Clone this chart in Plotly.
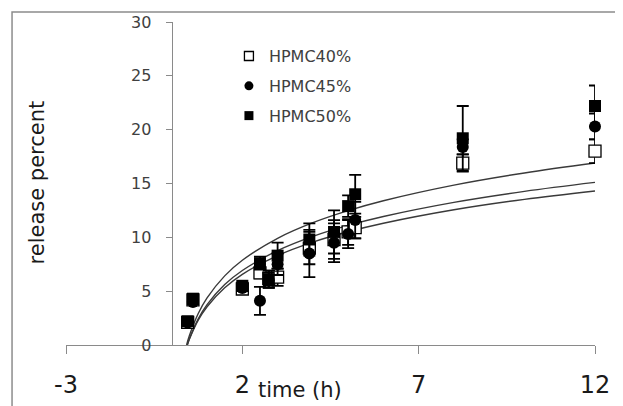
import plotly.graph_objects as go

# ---- data ----
time_h = [0.45, 0.6, 2.0, 2.5, 2.75, 3.0, 3.9, 4.6, 5.0, 5.2, 8.25, 12]

hpmc40 = [2.1, 4.2, 5.2, 6.7, 6.2, 6.3, 9.0, 9.8, 10.5, 10.9, 16.9, 18.0]
hpmc40_err = [0.2, 0.2, 0.3, 0.5, 0.7, 0.8, 1.5, 1.8, 1.2, 1.0, 0.8, 1.1]

hpmc45 = [2.1, 4.0, 5.3, 4.1, 6.0, 7.5, 8.5, 9.5, 10.3, 11.6, 18.4, 20.3]
hpmc45_err = [0.2, 0.2, 0.3, 1.3, 0.7, 1.0, 2.2, 1.8, 1.3, 1.7, 0.7, 1.2]

hpmc50 = [2.2, 4.3, 5.5, 7.6, 6.1, 8.3, 9.8, 10.5, 12.9, 14.0, 19.2, 22.2]
hpmc50_err = [0.3, 0.3, 0.3, 0.6, 0.8, 1.2, 1.5, 2.0, 1.0, 1.8, 3.0, 1.9]

# fitted trend curves
curve_t = [0.42, 0.5, 0.75, 1, 1.5, 2, 3, 4, 5, 6, 8, 10, 12]
curve_top = [0.0, 0.88, 2.92, 4.37, 6.42, 7.87, 9.91, 11.36, 12.48, 13.40, 14.85, 15.98, 16.9]
curve_t2 = [0.44, 0.5, 0.75, 1, 1.5, 2, 3, 4, 5, 6, 8, 10, 12]
curve_mid = [0.0, 0.58, 2.44, 3.75, 5.61, 6.92, 8.77, 10.09, 11.11, 11.94, 13.25, 14.27, 15.1]
curve_low = [0.0, 0.55, 2.31, 3.55, 5.31, 6.56, 8.31, 9.56, 10.52, 11.31, 12.56, 13.53, 14.31]

x_ticks = [-3, 2, 7, 12]
y_ticks = [0, 5, 10, 15, 20, 25, 30]

FONT = "DejaVu Sans"
TXT = "#404040"
AX = "#8a8a8a"

fig = go.Figure()

for cy, ct in [(curve_top, curve_t), (curve_mid, curve_t2), (curve_low, curve_t2)]:
    fig.add_trace(go.Scatter(x=ct, y=cy, mode="lines", line=dict(color="#3a3a3a", width=1.4, shape="spline"),
                             showlegend=False, hoverinfo="skip"))

series = [
    ("HPMC40%", hpmc40, hpmc40_err, dict(symbol="square", size=12, color="white",
                                          line=dict(color="black", width=1.3))),
    ("HPMC45%", hpmc45, hpmc45_err, dict(symbol="circle", size=12, color="black")),
    ("HPMC50%", hpmc50, hpmc50_err, dict(symbol="square", size=12, color="black")),
]
for name, vals, errs, mk in series:
    fig.add_trace(go.Scatter(
        x=time_h, y=vals, mode="markers", name=name, marker=mk, showlegend=False,
        error_y=dict(type="data", array=errs, visible=True, color="black", thickness=1.8, width=6),
        cliponaxis=False,
    ))
    # legend entry with smaller symbol
    lmk = dict(mk)
    lmk["size"] = 9
    fig.add_trace(go.Scatter(x=[None], y=[None], mode="markers", name=name, marker=lmk,
                             legendgroup=name, showlegend=True))

fig.update_layout(
    width=615, height=398,
    margin=dict(l=58, r=28, t=14, b=61, autoexpand=False),
    paper_bgcolor="white", plot_bgcolor="white",
    font=dict(family=FONT, color=TXT),
    legend=dict(x=0.308, y=0.947, xanchor="left", yanchor="top", bgcolor="rgba(0,0,0,0)",
                font=dict(family=FONT, size=16, color=TXT), tracegroupgap=6),
    xaxis=dict(range=[-3, 12], tickvals=x_ticks, ticktext=[str(v) for v in x_ticks],
               showline=True, linecolor=AX, linewidth=1.3, ticks="outside", ticklen=8,
               tickcolor=AX, tickwidth=1.3, showgrid=False, zeroline=False, automargin=False,
               tickfont=dict(family=FONT, size=24, color="#1a1a1a"), ticklabelstandoff=10),
    yaxis=dict(range=[0, 30], tickvals=y_ticks, anchor="free", position=0.2,
               showline=True, linecolor=AX, linewidth=1.3, ticks="outside", ticklen=6,
               tickcolor=AX, tickwidth=1.3, showgrid=False, zeroline=False, automargin=False,
               tickfont=dict(family=FONT, size=16, color=TXT), ticklabelstandoff=11),
    annotations=[
        dict(text="time (h)", xref="paper", yref="paper", x=0.443, y=-0.14,
             xanchor="center", yanchor="middle", showarrow=False,
             font=dict(family=FONT, size=21, color="#1a1a1a")),
        dict(text="release percent", xref="paper", yref="paper", x=-0.055, y=0.503,
             xanchor="center", yanchor="middle", textangle=-90, showarrow=False,
             font=dict(family=FONT, size=21, color="#1a1a1a")),
    ],
    shapes=[
        dict(type="rect", xref="paper", yref="paper", x0=-0.102, y0=-0.3, x1=1.2, y1=1.031,
             line=dict(color="#8c8c8c", width=1.5), layer="below"),
    ],
)

fig.write_html("out.html")
